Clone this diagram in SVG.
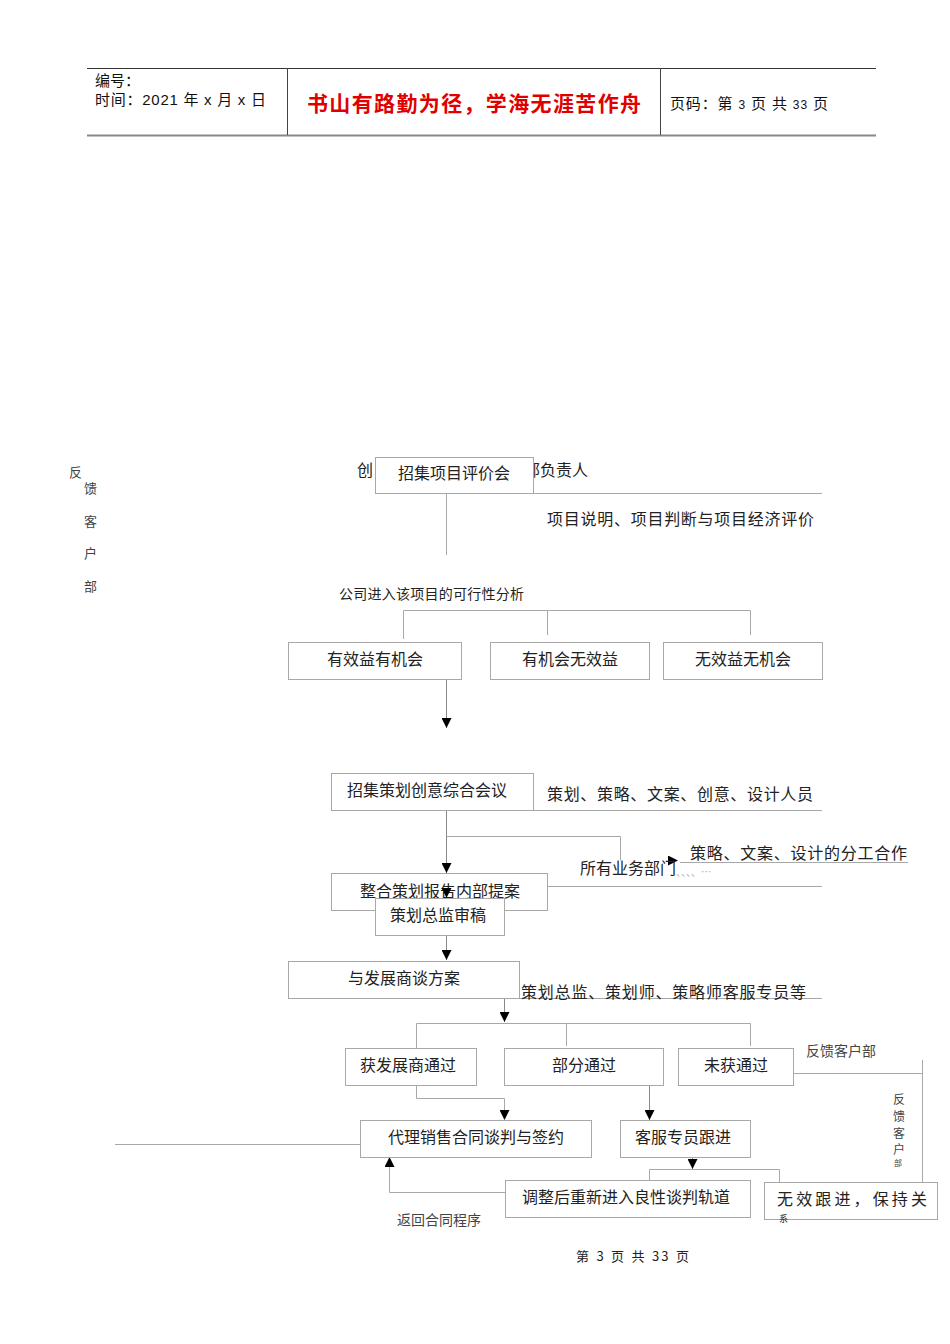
<svg xmlns="http://www.w3.org/2000/svg" width="950" height="1344" viewBox="0 0 950 1344">
<style>
.t{font-family:"Noto Sans CJK SC","Liberation Sans",sans-serif;fill:#222}
.h{font-family:"Liberation Sans","Noto Sans CJK SC",sans-serif;fill:#111}
.b{fill:#fff;stroke:#a8a8a8;stroke-width:1}
.l{stroke:#a8a8a8;stroke-width:1;fill:none}
.s{font-size:16px}
.m{font-size:14px}
.g{fill:#444}
</style>
<defs>
<marker id="ah" viewBox="0 0 10 10" refX="10" refY="5" markerWidth="10" markerHeight="10" markerUnits="userSpaceOnUse" orient="auto">
<path d="M0,0 L10,5 L0,10 z" fill="#000"/>
</marker>
</defs>
<rect width="950" height="1344" fill="#fff"/>
<g id="header">
<line x1="87" y1="68.5" x2="876" y2="68.5" stroke="#333" stroke-width="1"/>
<line x1="87" y1="135.5" x2="876" y2="135.5" stroke="#888" stroke-width="2"/>
<line x1="287.5" y1="68" x2="287.5" y2="135" stroke="#444" stroke-width="1"/>
<line x1="660.5" y1="68" x2="660.5" y2="135" stroke="#444" stroke-width="1"/>
<text class="h" x="95" y="86" font-size="15">编号：</text>
<text class="h" x="95" y="105" font-size="15" textLength="171">时间：2021 年 x 月 x 日</text>
<text class="h" x="307" y="111" font-size="21" font-weight="bold" fill="#e00000" style="fill:#e00000" textLength="334">书山有路勤为径，学海无涯苦作舟</text>
<text class="h" x="670" y="109" font-size="15" textLength="158">页码：第 <tspan font-size="12">3</tspan> 页  共 <tspan font-size="12">33</tspan> 页</text>
</g>
<g id="connectors">
<line class="l" x1="533" y1="493.5" x2="822" y2="493.5"/>
<line class="l" x1="446.5" y1="493" x2="446.5" y2="555"/>
<polyline class="l" points="403.5,639 403.5,610.5 750.5,610.5 750.5,635"/>
<line class="l" x1="547.5" y1="610" x2="547.5" y2="635"/>
<line x1="446.5" y1="679" x2="446.5" y2="728" stroke="#888" stroke-width="1" marker-end="url(#ah)"/>
<line class="l" x1="533" y1="810.5" x2="822" y2="810.5"/>
<line x1="446.5" y1="810" x2="446.5" y2="873" stroke="#888" stroke-width="1" marker-end="url(#ah)"/>
<polyline class="l" points="446.5,836.5 620.5,836.5 620.5,860.5"/>
<line x1="620" y1="860.5" x2="678" y2="860.5" stroke="none" marker-end="url(#ah)"/>
<line class="l" x1="680" y1="862.5" x2="908" y2="862.5"/>
<line class="l" x1="547" y1="886.5" x2="822" y2="886.5"/>
<line x1="446.5" y1="935" x2="446.5" y2="960" stroke="#888" stroke-width="1" marker-end="url(#ah)"/>
<line class="l" x1="288" y1="998.5" x2="822" y2="998.5"/>
<line x1="504.5" y1="998" x2="504.5" y2="1022" stroke="#888" stroke-width="1" marker-end="url(#ah)"/>
<polyline class="l" points="416.5,1048 416.5,1023.5 750.5,1023.5 750.5,1046"/>
<line class="l" x1="566.5" y1="1023" x2="566.5" y2="1046"/>
<polyline class="l" points="793,1073.5 922.5,1073.5 922.5,1185"/>
<line class="l" x1="922.5" y1="1060" x2="922.5" y2="1074"/>
<polyline class="l" points="416.5,1085 416.5,1098.5 504.5,1098.5 504.5,1112"/>
<line x1="504.5" y1="1105" x2="504.5" y2="1120" stroke="none" marker-end="url(#ah)"/>
<line x1="649.5" y1="1085" x2="649.5" y2="1120" stroke="#888" stroke-width="1" marker-end="url(#ah)"/>
<line class="l" x1="115" y1="1144.5" x2="360" y2="1144.5"/>
<line x1="692.5" y1="1157" x2="692.5" y2="1169" stroke="#888" stroke-width="1" marker-end="url(#ah)"/>
<polyline class="l" points="649.5,1180 649.5,1169.5 779.5,1169.5 779.5,1182"/>
<polyline class="l" points="505,1192.5 389.5,1192.5 389.5,1165"/>
<line x1="389.5" y1="1175" x2="389.5" y2="1157" stroke="none" marker-end="url(#ah)"/>
</g>
<g id="side-label">
<text class="t g" x="69" y="477" font-size="13">反</text>
<text class="t g" x="84" y="493" font-size="13">馈</text>
<text class="t g" x="84" y="526" font-size="13">客</text>
<text class="t g" x="84" y="558" font-size="13">户</text>
<text class="t g" x="84" y="591" font-size="13">部</text>
</g>
<g id="n-pingjiahui">
<text class="t s" x="357" y="476">创</text>
<text class="t s" x="524" y="476">部负责人</text>
<rect class="b" x="375.5" y="457.5" width="158" height="36"/>
<text class="t s" x="454" y="479" text-anchor="middle">招集项目评价会</text>
<text class="t s" x="547" y="525" textLength="267">项目说明、项目判断与项目经济评价</text>
</g>
<g id="n-feasibility">
<text class="t m" x="339" y="599" textLength="185">公司进入该项目的可行性分析</text>
</g>
<g id="n-a1"><rect class="b" x="288.5" y="642.5" width="173" height="37"/><text class="t s" x="375" y="665" text-anchor="middle">有效益有机会</text></g>
<g id="n-a2"><rect class="b" x="490.5" y="642.5" width="159" height="37"/><text class="t s" x="570" y="665" text-anchor="middle">有机会无效益</text></g>
<g id="n-a3"><rect class="b" x="663.5" y="642.5" width="159" height="37"/><text class="t s" x="743" y="665" text-anchor="middle">无效益无机会</text></g>
<g id="n-creative">
<rect class="b" x="331.5" y="773.5" width="202" height="37"/>
<text class="t s" x="427" y="796" text-anchor="middle">招集策划创意综合会议</text>
<text class="t s" x="547" y="800" textLength="266">策划、策略、文案、创意、设计人员</text>
</g>
<g id="n-division">
<text class="t s" x="690" y="859" textLength="217">策略、文案、设计的分工合作</text>
<text class="t s" x="580" y="874">所有业务部门<tspan font-size="10" fill="#aaa" dy="2">、、、、…</tspan></text>
</g>
<g id="n-proposal">
<rect class="b" x="331.5" y="873.5" width="216" height="37"/>
<text class="t s" x="440" y="897" text-anchor="middle">整合策划报告内部提案</text>
</g>
<g id="n-review">
<rect class="b" x="375.5" y="898.5" width="129" height="37"/>
<text class="t s" x="438" y="921" text-anchor="middle">策划总监审稿</text>
<path d="M441.5,888 L451.5,888 L446.5,898 z" fill="#000"/>
</g>
<g id="n-negotiate">
<rect class="b" x="288.5" y="961.5" width="231" height="37"/>
<text class="t s" x="404" y="984" text-anchor="middle">与发展商谈方案</text>
<text class="t s" x="521" y="998" textLength="285">策划总监、策划师、策略师客服专员等</text>
</g>
<g id="n-b1"><rect class="b" x="345.5" y="1048.5" width="131" height="37"/><text class="t s" x="408" y="1071" text-anchor="middle">获发展商通过</text></g>
<g id="n-b2"><rect class="b" x="504.5" y="1048.5" width="159" height="37"/><text class="t s" x="584" y="1071" text-anchor="middle">部分通过</text></g>
<g id="n-b3"><rect class="b" x="678.5" y="1048.5" width="115" height="37"/><text class="t s" x="736" y="1071" text-anchor="middle">未获通过</text></g>
<g id="n-feedback">
<text class="t m g" x="806" y="1056">反馈客户部</text>
<text class="t g" x="893" y="1104" font-size="12">反</text>
<text class="t g" x="893" y="1121" font-size="12">馈</text>
<text class="t g" x="893" y="1138" font-size="12">客</text>
<text class="t g" x="893" y="1154" font-size="12">户</text>
<text class="t g" x="894" y="1166" font-size="8">部</text>
</g>
<g id="n-contract">
<rect class="b" x="360.5" y="1120.5" width="231" height="37"/>
<text class="t s" x="476" y="1143" text-anchor="middle">代理销售合同谈判与签约</text>
</g>
<g id="n-service">
<rect class="b" x="620.5" y="1120.5" width="130" height="37"/>
<text class="t s" x="683" y="1143" text-anchor="middle">客服专员跟进</text>
</g>
<g id="n-adjust">
<rect class="b" x="505.5" y="1180.5" width="245" height="37"/>
<text class="t s" x="626" y="1203" text-anchor="middle">调整后重新进入良性谈判轨道</text>
</g>
<g id="n-invalid">
<rect class="b" x="764.5" y="1182.5" width="173" height="37"/>
<text class="t s" x="777" y="1205" textLength="150">无效跟进，保持关</text>
<text class="t" x="779" y="1222" font-size="9" fill="#999">系</text>
</g>
<g id="n-return">
<text class="t m g" x="397" y="1225">返回合同程序</text>
</g>
<g id="footer">
<text class="t" x="576" y="1261" font-size="13" textLength="113">第 3 页 共 33 页</text>
</g>
</svg>
